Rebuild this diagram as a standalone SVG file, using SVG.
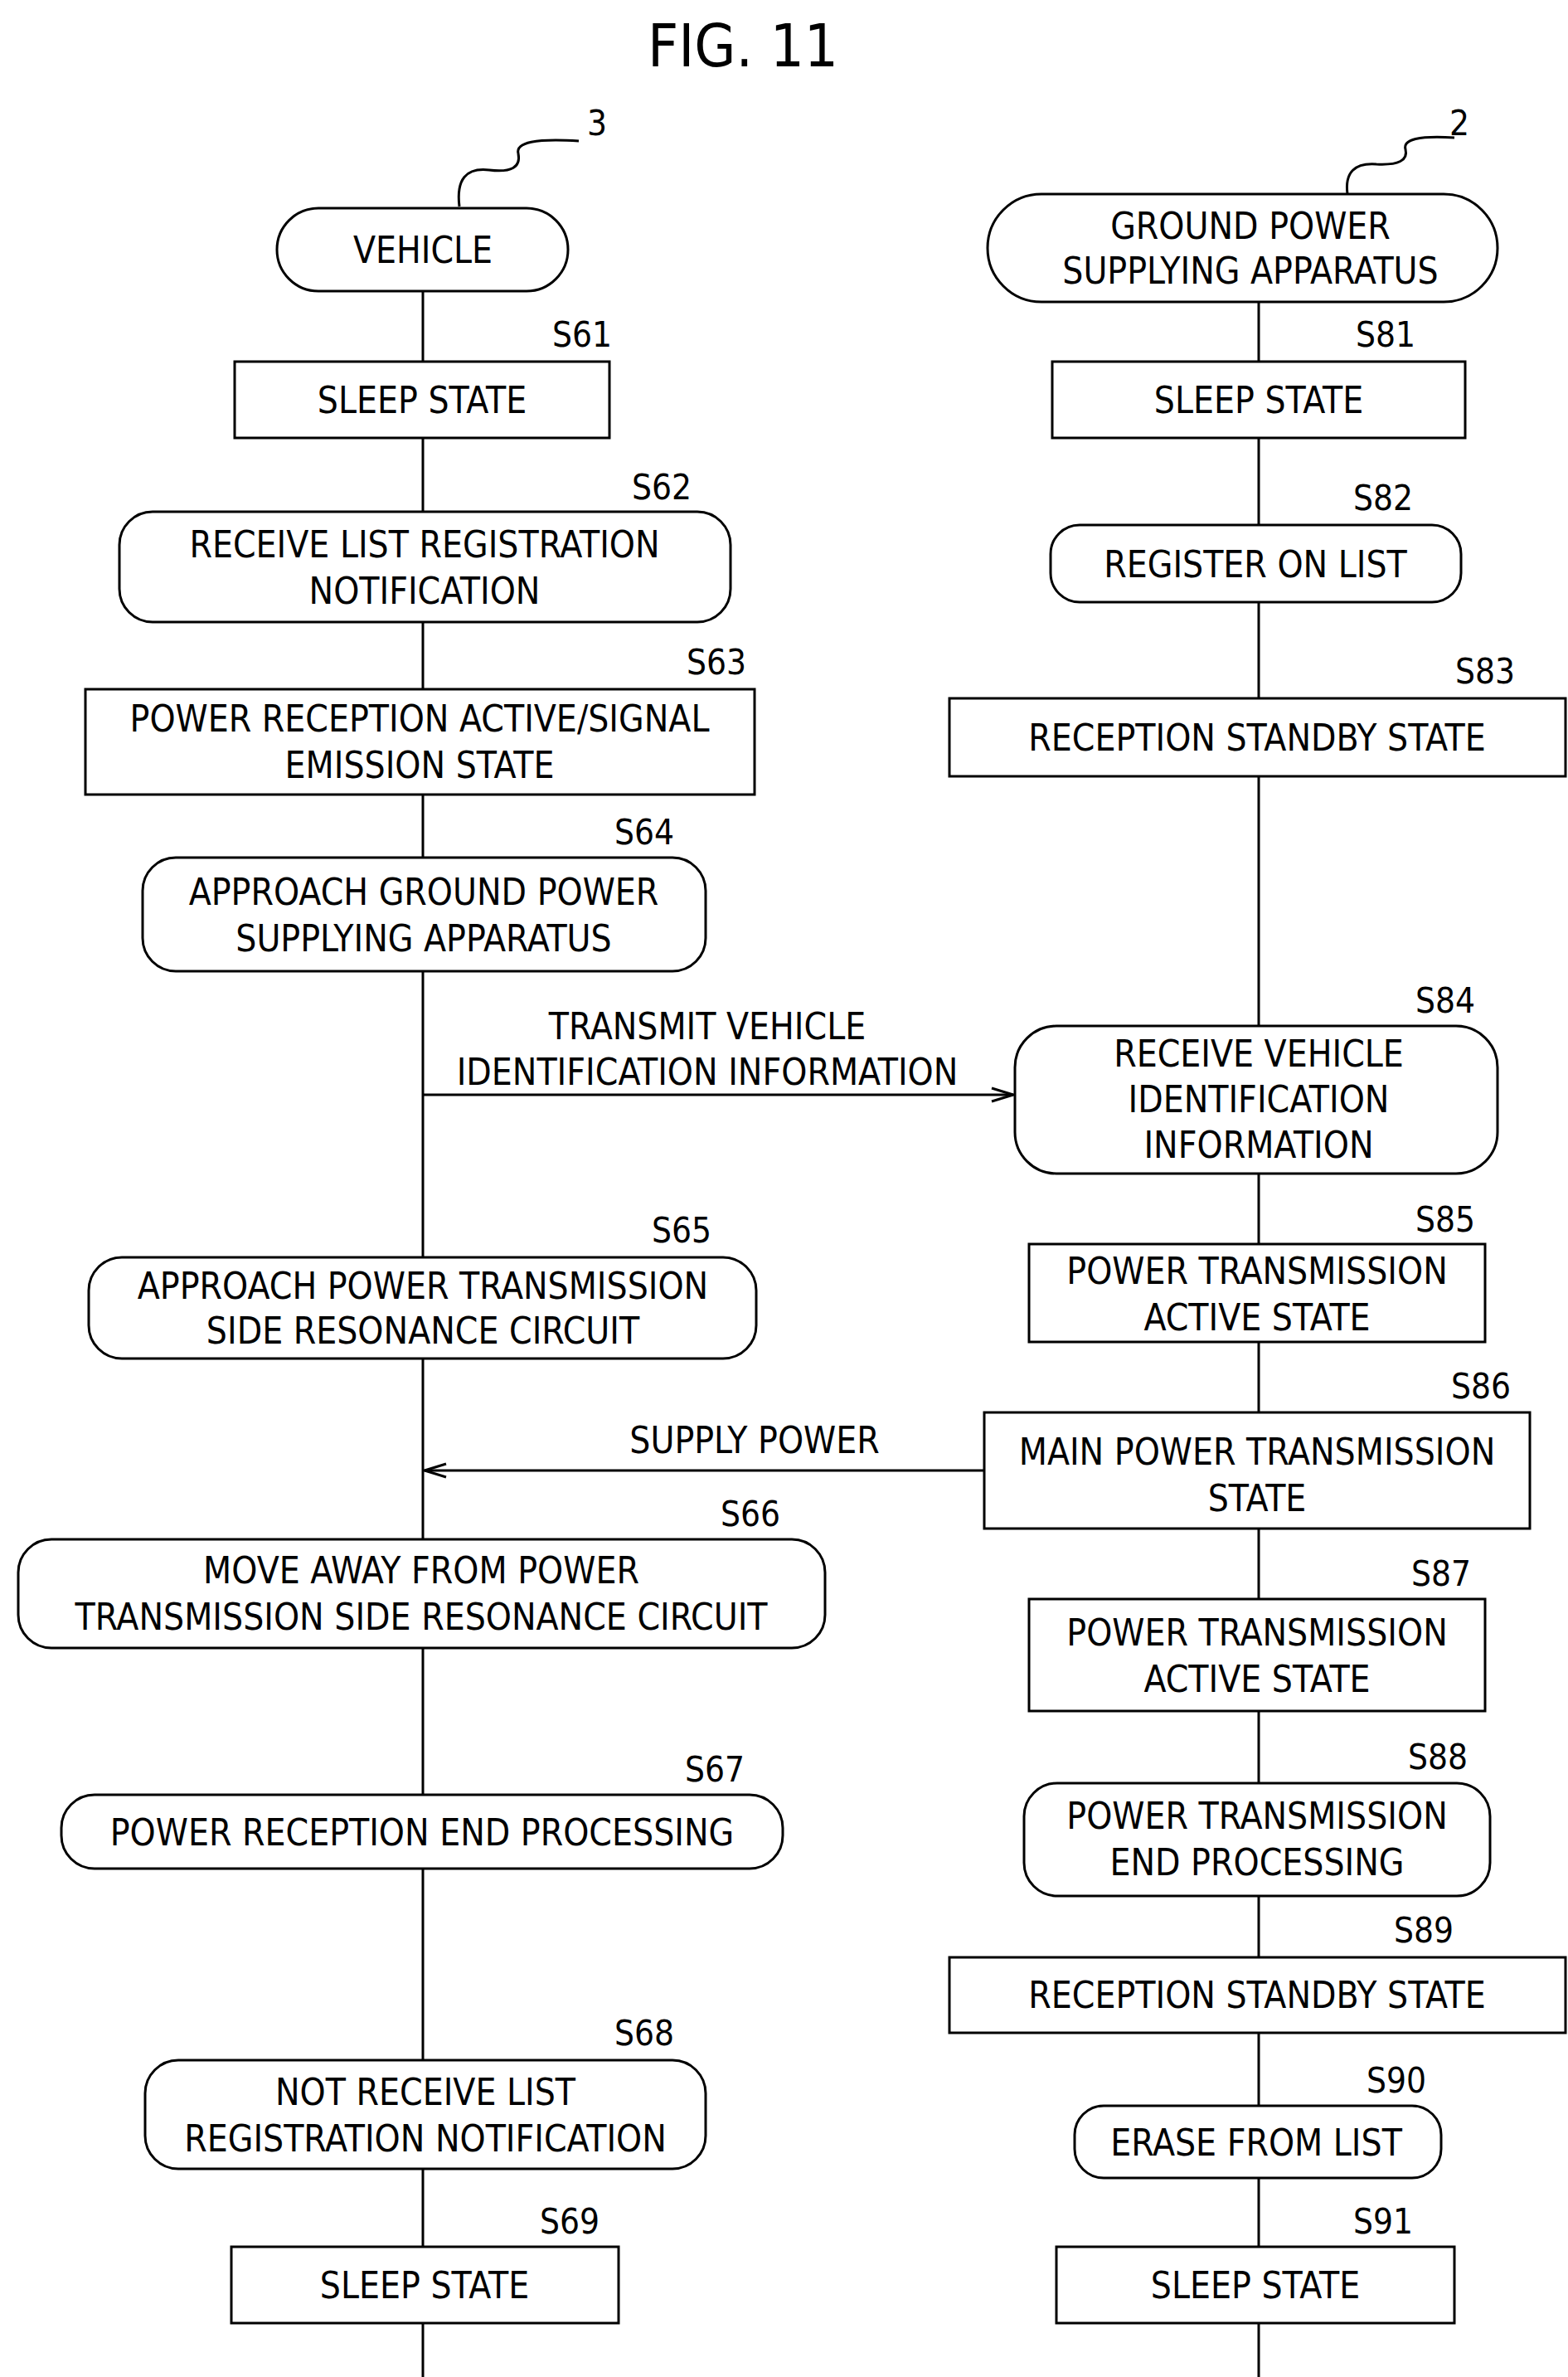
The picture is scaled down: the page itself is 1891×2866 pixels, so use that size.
<svg xmlns="http://www.w3.org/2000/svg" width="1891" height="2866" viewBox="0 0 1891 2866">
<style>
.b{fill:#fff;stroke:#000;stroke-width:3}
.l{fill:none;stroke:#000;stroke-width:3}
text{font-family:"DejaVu Sans Condensed","Liberation Sans",sans-serif;font-size:44px;fill:#000;text-anchor:middle;dominant-baseline:central}
.s{font-size:42px}
</style>
<defs><marker id="a" markerWidth="30" markerHeight="20" refX="28" refY="10" orient="auto" markerUnits="userSpaceOnUse"><path d="M2,2 L28,10 L2,18" fill="none" stroke="#000" stroke-width="3"/></marker></defs>
<rect width="1891" height="2866" fill="#fff"/>
<text x="896" y="55" style="font-size:72px">FIG. 11</text>
<g id="connectors">
<line class="l" x1="510" y1="351" x2="510" y2="2866"/>
<line class="l" x1="1518" y1="364" x2="1518" y2="2866"/>
<path class="l" d="M554,249 Q548,200 590,205 Q630,210 625,185 Q620,165 698,170"/>
<path class="l" d="M1625,234 Q1620,195 1660,198 Q1700,200 1695,180 Q1690,162 1754,166"/>
<line class="l" x1="510" y1="1320" x2="1222" y2="1320" marker-end="url(#a)"/>
<line class="l" x1="1186" y1="1773" x2="512" y2="1773" marker-end="url(#a)"/>
<text x="853" y="1237">TRANSMIT VEHICLE</text><text x="853" y="1292">IDENTIFICATION INFORMATION</text>
<text x="910" y="1736">SUPPLY POWER</text>
<text x="720" y="148" class="s">3</text><text x="1760" y="148" class="s">2</text>
</g>
<g id="vehicle"><rect class="b" x="334" y="251" width="351" height="100" rx="50"/><text x="510" y="301">VEHICLE</text></g>
<g id="ground"><rect class="b" x="1191" y="234" width="615" height="130" rx="65"/><text x="1508" y="272">GROUND POWER</text><text x="1508" y="326">SUPPLYING APPARATUS</text></g>
<g id="S61"><rect class="b" x="283" y="436" width="452" height="92"/><text x="509" y="482">SLEEP STATE</text><text x="702" y="403" class="s">S61</text></g>
<g id="S62"><rect class="b" x="144" y="617" width="737" height="133" rx="40"/><text x="512" y="656">RECEIVE LIST REGISTRATION</text><text x="512" y="712">NOTIFICATION</text><text x="798" y="587" class="s">S62</text></g>
<g id="S63"><rect class="b" x="103" y="831" width="807" height="127"/><text x="506" y="866">POWER RECEPTION ACTIVE/SIGNAL</text><text x="506" y="922">EMISSION STATE</text><text x="864" y="798" class="s">S63</text></g>
<g id="S64"><rect class="b" x="172" y="1034" width="679" height="137" rx="40"/><text x="511" y="1075">APPROACH GROUND POWER</text><text x="511" y="1131">SUPPLYING APPARATUS</text><text x="777" y="1003" class="s">S64</text></g>
<g id="S65"><rect class="b" x="107" y="1516" width="805" height="122" rx="40"/><text x="510" y="1550">APPROACH POWER TRANSMISSION</text><text x="510" y="1604">SIDE RESONANCE CIRCUIT</text><text x="822" y="1483" class="s">S65</text></g>
<g id="S66"><rect class="b" x="22" y="1856" width="973" height="131" rx="40"/><text x="508" y="1893">MOVE AWAY FROM POWER</text><text x="508" y="1949">TRANSMISSION SIDE RESONANCE CIRCUIT</text><text x="905" y="1825" class="s">S66</text></g>
<g id="S67"><rect class="b" x="74" y="2164" width="870" height="89" rx="40"/><text x="509" y="2209">POWER RECEPTION END PROCESSING</text><text x="862" y="2133" class="s">S67</text></g>
<g id="S68"><rect class="b" x="175" y="2484" width="676" height="131" rx="40"/><text x="513" y="2522">NOT RECEIVE LIST</text><text x="513" y="2578">REGISTRATION NOTIFICATION</text><text x="777" y="2451" class="s">S68</text></g>
<g id="S69"><rect class="b" x="279" y="2709" width="467" height="92"/><text x="512" y="2755">SLEEP STATE</text><text x="687" y="2678" class="s">S69</text></g>
<g id="S81"><rect class="b" x="1269" y="436" width="498" height="92"/><text x="1518" y="482">SLEEP STATE</text><text x="1671" y="403" class="s">S81</text></g>
<g id="S82"><rect class="b" x="1267" y="633" width="495" height="93" rx="35"/><text x="1514" y="680">REGISTER ON LIST</text><text x="1668" y="600" class="s">S82</text></g>
<g id="S83"><rect class="b" x="1145" y="842" width="743" height="94"/><text x="1516" y="889">RECEPTION STANDBY STATE</text><text x="1791" y="809" class="s">S83</text></g>
<g id="S84"><rect class="b" x="1224" y="1237" width="582" height="178" rx="50"/><text x="1518" y="1270">RECEIVE VEHICLE</text><text x="1518" y="1325">IDENTIFICATION</text><text x="1518" y="1380">INFORMATION</text><text x="1743" y="1206" class="s">S84</text></g>
<g id="S85"><rect class="b" x="1241" y="1500" width="550" height="118"/><text x="1516" y="1532">POWER TRANSMISSION</text><text x="1516" y="1588">ACTIVE STATE</text><text x="1743" y="1470" class="s">S85</text></g>
<g id="S86"><rect class="b" x="1187" y="1703" width="658" height="140"/><text x="1516" y="1750">MAIN POWER TRANSMISSION</text><text x="1516" y="1806">STATE</text><text x="1786" y="1671" class="s">S86</text></g>
<g id="S87"><rect class="b" x="1241" y="1928" width="550" height="135"/><text x="1516" y="1968">POWER TRANSMISSION</text><text x="1516" y="2024">ACTIVE STATE</text><text x="1738" y="1897" class="s">S87</text></g>
<g id="S88"><rect class="b" x="1235" y="2150" width="562" height="136" rx="40"/><text x="1516" y="2189">POWER TRANSMISSION</text><text x="1516" y="2245">END PROCESSING</text><text x="1734" y="2118" class="s">S88</text></g>
<g id="S89"><rect class="b" x="1145" y="2360" width="743" height="91"/><text x="1516" y="2405">RECEPTION STANDBY STATE</text><text x="1717" y="2327" class="s">S89</text></g>
<g id="S90"><rect class="b" x="1296" y="2539" width="442" height="87" rx="35"/><text x="1515" y="2583">ERASE FROM LIST</text><text x="1684" y="2508" class="s">S90</text></g>
<g id="S91"><rect class="b" x="1274" y="2709" width="480" height="92"/><text x="1514" y="2755">SLEEP STATE</text><text x="1668" y="2678" class="s">S91</text></g>
</svg>
